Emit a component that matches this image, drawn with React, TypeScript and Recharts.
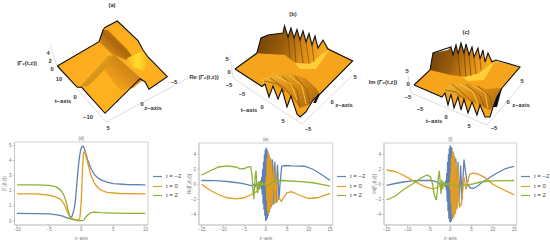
import React from "react";
import { ComposedChart, LineChart, Line, Area, XAxis, YAxis, Legend, ReferenceArea, ReferenceDot } from "recharts";

type P = [number, number];

// ---- line plots: [z, value] ----
const absBlue: P[] = [[-10,.5],[-7,.49],[-5,.47],[-4,.42],[-3,.33],[-2.4,.24],[-2,.17],[-1.7,.16],[-1.4,.35],[-1.1,.8],[-.9,1.4],[-.7,2.4],[-.5,3.4],[-.3,4.2],[-.1,4.7],[.1,4.93],[.3,4.95],[.5,4.8],[.8,4.35],[1,4.05],[1.5,3.5],[2,3.1],[2.5,2.88],[3,2.74],[4,2.58],[5,2.48],[7,2.42],[10,2.4]];
const absOrange: P[] = [[-10,1.8],[-7,1.79],[-5,1.72],[-4,1.6],[-3.2,1.42],[-2.7,1.15],[-2.3,.75],[-2,.45],[-1.6,.22],[-1.2,.12],[-.8,.07],[-.4,.05],[-.2,.25],[0,1.3],[.1,2.4],[.2,3.5],[.35,4.5],[.5,4.65],[.8,4.2],[1,3.85],[1.5,3.05],[2,2.55],[2.5,2.25],[3,2.05],[4,1.9],[6,1.82],[10,1.8]];
const absGreen: P[] = [[-10,2.4],[-7,2.39],[-5,2.36],[-4,2.28],[-3.3,2.08],[-2.8,1.8],[-2.4,1.35],[-2.1,.8],[-1.8,.25],[-1.6,.12],[-1.2,.08],[-.6,.03],[0,.02],[.3,.03],[.5,.12],[.8,.3],[1.1,.42],[1.5,.55],[2,.58],[3,.55],[5,.52],[7,.5],[10,.5]];

const reBlue: P[] = [[-15,.5],[-12,.48],[-10,.42],[-8,.3],[-6,.15],[-4.5,0],[-3.2,-.2],[-2.8,0],[-2.5,-.3],[-2.2,.1],[-1.9,-.2],[-1.6,.2],[-1.4,-.3],[-1.2,.5],[-1.05,-.7],[-.95,1],[-.85,-1.4],[-.75,2],[-.65,-2.6],[-.55,3],[-.45,-3.4],[-.35,4],[-.25,-4.2],[-.15,4.6],[-.05,-4.9],[.05,4.9],[.15,-4.8],[.25,4.7],[.35,-4.5],[.45,4.4],[.55,-4.2],[.65,4],[.75,-3.8],[.85,3.7],[1,-3.3],[1.15,3.4],[1.3,-3],[1.55,3.3],[1.8,-2.7],[2.1,3],[2.4,-2.5],[2.7,2.6],[3.05,-2.1],[3.3,0],[3.7,2.4],[4.5,2.5],[6,2.45],[9,2.4],[11,2],[13,1.3],[15,.5]];
const reOrange: P[] = [[-15,0],[-13,-.8],[-11,-1.4],[-9,-1.8],[-7,-1.95],[-5,-1.8],[-3.5,-1.4],[-2.5,-1.1],[-2,-.9],[-1.7,-.5],[-1.5,-.3],[-1.2,.05],[-.8,-.05],[-.4,.05],[0,-.2],[.1,1],[.2,-2],[.3,3.5],[.4,-3.6],[.5,4.3],[.6,-4],[.7,4],[.85,-3.8],[1,3.5],[1.15,-3.2],[1.3,3],[1.5,-2.8],[1.8,2.5],[2.1,-2.6],[2.4,1.5],[2.7,-2.2],[3.1,-1.8],[3.6,-2.3],[4.2,-1.7],[5,-1.1],[6,-1],[8,-1.5],[10,-1.9],[12,-1.8],[14,-1.4],[15,-1.2]];
const reGreen: P[] = [[-15,1.2],[-13,1.8],[-11,2.3],[-9,2.45],[-7,2.3],[-6,2.05],[-5,2.1],[-4,2.35],[-3.5,2.3],[-3.2,1],[-3,-1],[-2.8,-2],[-2.7,-.8],[-2.5,1],[-2.3,1.8],[-2.1,-.2],[-1.9,-1.2],[-1.7,.4],[-1.5,-.7],[-1.3,.3],[-1.1,-.2],[-.9,.2],[-.6,0],[0,-.1],[.6,-.15],[1,-.1],[1.6,.3],[2,.45],[4,.5],[8,.35],[11,.2],[13,0],[15,-.25]];

const imBlue: P[] = [[-15,-.15],[-13,.1],[-11,.3],[-9,.45],[-7,.5],[-5,.5],[-4,.45],[-3,.3],[-2.5,0],[-2,-.1],[-1.6,.2],[-1.3,-.3],[-1.1,.5],[-.95,-.8],[-.85,1.5],[-.75,-2.3],[-.65,3],[-.55,-3.6],[-.45,4],[-.35,-4.6],[-.25,4.8],[-.15,-5],[-.05,5.2],[.05,-5.1],[.15,5],[.25,-4.9],[.35,4.9],[.45,-4.6],[.55,4.4],[.65,-4.3],[.75,4.2],[.85,-4],[1,3.7],[1.15,-3.6],[1.3,3.4],[1.55,-3.2],[1.8,3],[2.1,-2.8],[2.4,2.5],[2.75,-2],[3.2,3.3],[3.6,1.5],[4,0],[4.7,-.5],[5.5,-.55],[6.5,-.2],[7.5,.3],[8.5,.6],[9.5,1],[11,1.5],[13,2.1],[15,2.4]];
const imOrange: P[] = [[-15,1.9],[-13,1.7],[-11,1.2],[-9,.55],[-7,-.05],[-5.5,-.4],[-4.2,-.6],[-3.4,-.5],[-2.8,-.3],[-2.2,-.15],[-1.5,.05],[-.8,-.05],[-.2,.1],[0,-.8],[.1,1.4],[.2,-2.5],[.3,3.6],[.4,-4],[.5,4.5],[.6,-4.6],[.7,4.3],[.85,-4.4],[1,3.6],[1.15,-4],[1.3,3],[1.5,-3.4],[1.8,2.4],[2.2,-3],[2.6,-2.7],[3.2,1],[3.7,-.7],[4.5,1.3],[5.3,1.5],[6.5,1.35],[8,.95],[10,0],[12,-.6],[15,-1.4]];
const imGreen: P[] = [[-15,-2.1],[-13,-1.6],[-11,-.7],[-9,0],[-7,.8],[-5.5,1.25],[-4.7,1],[-4.2,.1],[-3.8,-1.4],[-3.3,-2.1],[-3,-.6],[-2.8,1],[-2.6,1.8],[-2.4,.3],[-2.2,-1.3],[-2,.6],[-1.8,-.7],[-1.6,.3],[-1.3,-.2],[-1,.1],[-.4,-.1],[.5,0],[1.2,-.15],[2,-.3],[3,-.15],[5,0],[7,.3],[10,.45],[15,.5]];

const seriesNames = ["t = −2", "t = 0", "t = 2"];
const seriesColors = ["#5E81B5", "#E19C24", "#8FB131"];

// ---- surface outlines, projected onto the picture plane: [across, down] ----
const aBaseUp: P[] = [[57.3,66],[99,41.7],[103,30],[105,27.5],[117.3,21],[138,40.7],[143,50],[148,57],[167.3,76.7]];
const aBaseLo: P[] = [[57.3,66],[77.3,87.3],[81.7,87.3],[105,113.3],[140,78.7],[145,81.7],[149,89.3],[167.3,76.7]];
const aBackUp: P[] = [[99,41.7],[103,30],[108,30],[126,48],[132,56]];
const aBackLo: P[] = [[99,41.7],[112,54],[126,60],[132,56]];
const aYellowUp: P[] = [[127,58],[136,54],[143,51],[148,58]];
const aYellowLo: P[] = [[127,58],[133,67],[144,71],[148,58]];
const aRidgeUp: P[] = [[104,70],[108,56],[115,55],[143,80]];
const aRidgeLo: P[] = [[104,70],[120,90],[133,88],[143,80]];
const aSlopeUp: P[] = [[79,87],[90,76],[108,56],[113,57]];
const aSlopeLo: P[] = [[79,87],[88,86],[102,72],[113,57]];
const aOutline: P[] = [[57.3,66],[77.3,87.3],[81.7,87.3],[105,113.3],[140,78.7],[145,81.7],[149,89.3],[167.3,76.7],[148,57],[143,50],[138,40.7],[117.3,21],[105,27.5],[103,30],[99,41.7],[57.3,66]];
const aAxis: P[] = [[50,45],[57,66],[106,122],[190,77]];

const bBaseUp: P[] = [[235,69],[256.7,53.3],[328,48],[352.7,61]];
const bBaseLo: P[] = [[235,69],[262,86.5],[265,84],[269,97],[273,86],[278,99],[282,89],[287,107],[291,96],[297,114],[300,117],[306,112],[313,100],[320,94],[352.7,61]];
const bBackUp: P[] = [[256.7,53.3],[261,38],[268,35],[278,33.5],[283,33],[284.5,26],[288,37],[291,28],[294,38],[297,29.5],[300,40],[303,31],[306,42],[309,33.5],[312,45],[315,36],[318,48],[323,40],[328,49]];
const bBackLo: P[] = [[256.7,53.3],[270,54],[285,55],[295,63],[310,65],[320,58],[328,49]];
const bGlowUp: P[] = [[295,63],[310,64],[322,54],[330,49]];
const bGlowLo: P[] = [[295,63],[300,69],[316,69],[330,49]];
const bFringeUp: P[] = [[260,80],[275,74],[290,73],[305,78],[316,88],[320,94]];
const bFringeLo: P[] = [[260,80],[265,84],[273,86],[282,89],[291,96],[300,108],[310,104],[320,94]];
const bBlobUp: P[] = [[313,103],[318,94],[320,94]];
const bBlobLo: P[] = [[313,103],[316,103],[320,94]];
const bEdge: P[] = [[235,69],[262,86.5],[265,84],[269,97],[273,86],[278,99],[282,89],[287,107],[291,96],[297,114],[300,117],[306,112],[313,100],[320,94],[352.7,61],[328,49],[323,40],[318,48],[315,36],[312,45],[309,33.5],[306,42],[303,31],[300,40],[297,29.5],[294,38],[291,28],[288,37],[284.5,26],[283,33],[268,35],[261,38],[256.7,53.3],[235,69]];
const bRibA: P[] = [[270,78],[285,88],[291,96]];
const bRibB: P[] = [[282,76],[297,90],[300,108]];
const bRibC: P[] = [[295,76],[307,90],[310,104]];
const bRibD: P[] = [[264,81],[278,84],[285,92]];
const bLightA: P[] = [[276,76],[291,84],[297,100]];
const bLightB: P[] = [[289,75],[302,86],[306,104]];
const bBackRibA: P[] = [[288,37],[290,58]];
const bBackRibB: P[] = [[294,38],[296,62]];
const bBackRibC: P[] = [[300,40],[303,63]];
const bBackRibD: P[] = [[306,42],[309,63]];
const bBackRibE: P[] = [[312,45],[314,62]];
const bAxis: P[] = [[230,55],[233,78],[302,124],[353,75]];

const cBaseUp: P[] = [[414,85],[430,70],[492,60],[520,67]];
const cBaseLo: P[] = [[414,85],[442,97],[445,93],[448,105],[451,94],[454,108],[458,97],[461,110],[464,99],[468,113],[472,102],[477,115],[480,105],[485,117],[490,117],[493,107],[497,97],[502,88],[520,67]];
const cBackUp: P[] = [[430,70],[433,53],[448,50],[451,47],[453,55],[456,45],[458,54],[461,43],[464,53],[466,44],[469,55],[472,47],[474,57],[478,48],[480,59],[483,50],[485,62],[488,53],[492,62]];
const cBackLo: P[] = [[430,70],[451,75],[465,77],[478,73],[490,63],[492,62]];
const cGlowUp: P[] = [[462,77],[478,74],[488,66],[496,60]];
const cGlowLo: P[] = [[462,77],[468,81],[484,80],[496,60]];
const cFringeUp: P[] = [[440,92],[452,84],[470,83],[486,89],[502,88]];
const cFringeLo: P[] = [[440,92],[445,93],[451,94],[458,97],[464,99],[472,102],[480,105],[490,110],[502,88]];
const cBlobUp: P[] = [[493,107],[497,96],[502,88]];
const cBlobLo: P[] = [[493,107],[497,107],[502,88]];
const cEdge: P[] = [[414,85],[442,97],[445,93],[448,105],[451,94],[454,108],[458,97],[461,110],[464,99],[468,113],[472,102],[477,115],[480,105],[485,117],[490,117],[493,107],[497,97],[502,88],[520,67],[496,60],[492,62],[488,53],[485,62],[483,50],[480,59],[478,48],[474,57],[472,47],[469,55],[466,44],[464,53],[461,43],[458,54],[456,45],[453,55],[451,47],[433,53],[430,70],[414,85]];
const cRibA: P[] = [[452,84],[466,96],[472,102]];
const cRibB: P[] = [[466,84],[480,96],[485,108]];
const cRibC: P[] = [[478,86],[490,97],[492,108]];
const cRibD: P[] = [[445,90],[456,92],[464,99]];
const cLightA: P[] = [[459,84],[473,92],[478,104]];
const cLightB: P[] = [[472,85],[485,93],[488,108]];
const cBackRibA: P[] = [[458,54],[460,76]];
const cBackRibB: P[] = [[464,53],[466,77]];
const cBackRibC: P[] = [[469,55],[471,76]];
const cBackRibD: P[] = [[474,57],[476,74]];
const cBackRibE: P[] = [[480,59],[481,70]];
const cAxis: P[] = [[408,76],[411,93],[487,125],[522,84]];

// ---- texts around the surfaces ----
const captions: [string, number, number][] = [
  ["(a)",112,5],["|Γ₂(t,z)|",27,63],["4",48,53],["2",50,61],["0",52,69],["10",59,79],["t−axis",63,101],["0",75,97],["−10",88,117],["−5",174,82],["0",142,104],["z−axis",153,108],["5",108,128],
  ["(b)",293,14],["Re (Γ₂(t,z))",204,77],["5",227,59],["0",229,72],["−5",229,85],["−5",242,94],["t−axis",249,110],["0",262,107],["5",283,121],["0",332,102],["z−axis",344,105],["5",355,77],["−5",308,129],
  ["(c)",466,32],["Im (Γ₂(t,z))",383,82],["5",407,71],["0",408,84],["−5",408,97],["−5",420,109],["t−axis",434,121],["0",446,117],["5",469,126],["0",508,102],["z−axis",521,105],["5",522,81],["−5",494,128],
];

const FONT = '"Liberation Sans", Arial, sans-serif';

function band(up: P[], lo: P[]) {
  const at = (pts: P[], x: number) => {
    for (let i = 1; i < pts.length; i++) {
      if (x <= pts[i][0]) {
        const [x0, y0] = pts[i - 1];
        const [x1, y1] = pts[i];
        return x1 === x0 ? y1 : y0 + ((y1 - y0) * (x - x0)) / (x1 - x0);
      }
    }
    return pts[pts.length - 1][1];
  };
  const xs = Array.from(new Set([...up, ...lo].map((p) => p[0]))).sort((a, b) => a - b);
  return xs.map((x) => ({ x, band: [at(lo, x), at(up, x)] }));
}
const toRows = (pts: P[]) => pts.map(([x, y]) => ({ x, y }));

const surface = (up: P[], lo: P[], fill: string, key: string) => (
  <Area key={key} data={band(up, lo)} dataKey="band" type="linear" xAxisId="s" yAxisId="s" fill={fill} fillOpacity={1} stroke="none" dot={false} activeDot={false} isAnimationActive={false} />
);
const path = (pts: P[], stroke: string, w: number, key: string) => (
  <Line key={key} data={toRows(pts)} dataKey="y" type="linear" xAxisId="s" yAxisId="s" stroke={stroke} strokeWidth={w} dot={false} activeDot={false} isAnimationActive={false} legendType="none" />
);

function Surfaces() {
  return (
    <ComposedChart width={550} height={135} margin={{ top: 0, right: 0, bottom: 0, left: 0 }} style={{ position: "absolute", left: 0, top: 0 }}>
      <defs>
        <linearGradient id="gABase" x1="0" y1="0" x2="1" y2="1">
          <stop offset="0" stopColor="#F9A51B" /><stop offset="0.6" stopColor="#FFB21F" /><stop offset="1" stopColor="#FDA91C" />
        </linearGradient>
        <linearGradient id="gABack" x1="0.9" y1="0" x2="0.2" y2="0.7">
          <stop offset="0" stopColor="#F8A51C" /><stop offset="0.6" stopColor="#A9660E" /><stop offset="1" stopColor="#D88B14" />
        </linearGradient>
        <linearGradient id="gAYellow" x1="0" y1="0.5" x2="1" y2="0.5">
          <stop offset="0" stopColor="#FFB420" /><stop offset="0.5" stopColor="#FFDE2C" /><stop offset="1" stopColor="#FFB420" />
        </linearGradient>
        <linearGradient id="gARidge" x1="1" y1="0" x2="0" y2="1">
          <stop offset="0" stopColor="#F2AA1E" /><stop offset="0.4" stopColor="#D08718" /><stop offset="0.8" stopColor="#F4A01A" /><stop offset="1" stopColor="#FBAB1C" />
        </linearGradient>
        <linearGradient id="gASlope" x1="0" y1="0" x2="1" y2="1">
          <stop offset="0" stopColor="#FFC026" /><stop offset="1" stopColor="#B4700F" />
        </linearGradient>
        <linearGradient id="gBack" x1="0" y1="0" x2="1" y2="0.2">
          <stop offset="0" stopColor="#6B3F08" /><stop offset="0.45" stopColor="#9A5D0C" /><stop offset="0.75" stopColor="#D98B14" /><stop offset="1" stopColor="#F7A81D" />
        </linearGradient>
        <linearGradient id="gFringe" x1="0" y1="0" x2="1" y2="0.6">
          <stop offset="0" stopColor="#F2C03C" /><stop offset="0.5" stopColor="#E09116" /><stop offset="1" stopColor="#B4700F" />
        </linearGradient>
      </defs>
      <XAxis xAxisId="s" type="number" dataKey="x" hide domain={[0, 550]} allowDataOverflow />
      <YAxis yAxisId="s" type="number" hide reversed domain={[0, 135]} allowDataOverflow />

      {path(aAxis, "#D4D4D4", 0.8, "a-axis")}
      {path(bAxis, "#D4D4D4", 0.8, "b-axis")}
      {path(cAxis, "#D4D4D4", 0.8, "c-axis")}

      {surface(aBaseUp, aBaseLo, "url(#gABase)", "a-base")}
      {surface(aBackUp, aBackLo, "url(#gABack)", "a-back")}
      {surface(aYellowUp, aYellowLo, "url(#gAYellow)", "a-yellow")}
      {surface(aRidgeUp, aRidgeLo, "url(#gARidge)", "a-ridge")}
      {surface(aSlopeUp, aSlopeLo, "url(#gASlope)", "a-slope")}
      {path(aOutline, "#111", 1.1, "a-edge")}

      {surface(bBaseUp, bBaseLo, "#F6A41C", "b-base")}
      {surface(bBackUp, bBackLo, "url(#gBack)", "b-back")}
      {path(bBackRibA, "#6B3F08", 0.7, "b-k1")}
      {path(bBackRibB, "#6B3F08", 0.7, "b-k2")}
      {path(bBackRibC, "#6B3F08", 0.7, "b-k3")}
      {path(bBackRibD, "#7F4C0A", 0.7, "b-k4")}
      {path(bBackRibE, "#7F4C0A", 0.7, "b-k5")}
      {surface(bGlowUp, bGlowLo, "#FFCF3A", "b-glow")}
      {surface(bFringeUp, bFringeLo, "url(#gFringe)", "b-fringe")}
      {path(bRibA, "#8F5509", 0.8, "b-r1")}
      {path(bRibB, "#8F5509", 0.8, "b-r2")}
      {path(bRibC, "#8F5509", 0.8, "b-r3")}
      {path(bRibD, "#8F5509", 0.8, "b-r4")}
      {path(bLightA, "#FFD24A", 0.8, "b-l1")}
      {path(bLightB, "#FFD24A", 0.8, "b-l2")}
      {surface(bBlobUp, bBlobLo, "#111", "b-blob")}
      {path(bEdge, "#111", 1.1, "b-edge")}

      {surface(cBaseUp, cBaseLo, "#F6A41C", "c-base")}
      {surface(cBackUp, cBackLo, "url(#gBack)", "c-back")}
      {path(cBackRibA, "#6B3F08", 0.7, "c-k1")}
      {path(cBackRibB, "#6B3F08", 0.7, "c-k2")}
      {path(cBackRibC, "#6B3F08", 0.7, "c-k3")}
      {path(cBackRibD, "#7F4C0A", 0.7, "c-k4")}
      {path(cBackRibE, "#7F4C0A", 0.7, "c-k5")}
      {surface(cGlowUp, cGlowLo, "#FFCF3A", "c-glow")}
      {surface(cFringeUp, cFringeLo, "url(#gFringe)", "c-fringe")}
      {path(cRibA, "#8F5509", 0.8, "c-r1")}
      {path(cRibB, "#8F5509", 0.8, "c-r2")}
      {path(cRibC, "#8F5509", 0.8, "c-r3")}
      {path(cRibD, "#8F5509", 0.8, "c-r4")}
      {path(cLightA, "#FFD24A", 0.8, "c-l1")}
      {path(cLightB, "#FFD24A", 0.8, "c-l2")}
      {surface(cBlobUp, cBlobLo, "#111", "c-blob")}
      {path(cEdge, "#111", 1.1, "c-edge")}

      {captions.map(([value, x, y], i) => (
        <ReferenceDot key={i} xAxisId="s" yAxisId="s" x={x} y={y} r={0} fill="none" stroke="none" ifOverflow="visible"
          label={{ value, position: "center", fontSize: 5.8, fontWeight: 700, fontFamily: FONT, fill: "#333" }} />
      ))}
    </ComposedChart>
  );
}

type PlotProps = {
  left: number; plotLeft: number; plotRight: number; plotTop: number; plotBottom: number;
  width: number; xDomain: number[]; yDomain: number[]; xTicks: number[]; yTicks: number[];
  title: string; yLabel: string; series: P[][]; legendLeft: number;
};

function Plot(p: PlotProps) {
  const top = 125;
  const height = 116;
  const yAxisW = 9;
  const xAxisH = 12;
  const tick = { fontSize: 4.5, fill: "#777", fontFamily: FONT };
  return (
    <LineChart
      width={p.width}
      height={height}
      margin={{ left: p.plotLeft - p.left - yAxisW, right: p.left + p.width - p.plotRight, top: p.plotTop - top, bottom: top + height - p.plotBottom - xAxisH }}
      style={{ position: "absolute", left: p.left, top }}
    >
      <XAxis type="number" dataKey="z" domain={p.xDomain} ticks={p.xTicks} allowDataOverflow height={xAxisH} tick={tick} tickSize={2} tickMargin={1}
        axisLine={{ stroke: "#BDBDBD", strokeWidth: 0.7 }} tickLine={{ stroke: "#999", strokeWidth: 0.5 }}
        tickFormatter={(v: number) => String(v).replace("-", "−")}
        label={{ value: "z−axis", position: "insideBottom", offset: -3, fontSize: 4.5, fill: "#777", fontFamily: FONT }} />
      <YAxis type="number" domain={p.yDomain} ticks={p.yTicks} allowDataOverflow width={yAxisW} tick={tick} tickSize={2} tickMargin={1}
        axisLine={{ stroke: "#BDBDBD", strokeWidth: 0.7 }} tickLine={{ stroke: "#999", strokeWidth: 0.5 }}
        tickFormatter={(v: number) => String(v).replace("-", "−")}
        label={{ value: p.yLabel, angle: -90, position: "insideLeft", offset: 0, dx: -1, fontSize: 4.5, fill: "#777", fontFamily: FONT, style: { textAnchor: "middle" } }} />
      <ReferenceArea x1={p.xDomain[0]} x2={p.xDomain[1]} y1={p.yDomain[0]} y2={p.yDomain[1]} fill="none" stroke="#BDBDBD" strokeWidth={0.7}
        label={{ value: p.title, position: "top", offset: 2, fontSize: 4.5, fill: "#666", fontFamily: FONT }} />
      {p.series.map((s, i) => (
        <Line key={i} name={seriesNames[i]} data={s.map(([z, v]) => ({ z, v }))} dataKey="v" type="linear" stroke={seriesColors[i]} strokeWidth={1.3} dot={false} activeDot={false} isAnimationActive={false} />
      ))}
      <Legend layout="vertical" align="center" verticalAlign="middle" iconType="plainline" iconSize={9} itemSorter={null}
        wrapperStyle={{ left: p.legendLeft - p.left, top: 47, width: 40, fontSize: 6, lineHeight: "9.6px", fontFamily: FONT, margin: 0 }}
        formatter={(v: string) => <span style={{ color: "#444" }}>{v}</span>} />
    </LineChart>
  );
}

export default function App() {
  return (
    <div style={{ position: "absolute", left: 0, top: 0, width: 550, height: 241, overflow: "hidden", background: "#fff" }}>
      <Surfaces />
      <Plot left={0} width={185} plotLeft={14.5} plotRight={148} plotTop={142} plotBottom={225} xDomain={[-10.4, 10.4]} yDomain={[-0.27, 5.24]} xTicks={[-10,-5,0,5,10]} yTicks={[0,1,2,3,4,5]} title="(d)" yLabel="|Γ₂(t,z)|" series={[absBlue, absOrange, absGreen]} legendLeft={153} />
      <Plot left={185} width={180} plotLeft={199} plotRight={332.7} plotTop={143} plotBottom={225} xDomain={[-15.6, 15.6]} yDomain={[-5.43, 5.5]} xTicks={[-15,-10,-5,0,5,10,15]} yTicks={[-4,-2,0,2,4]} title="(e)" yLabel="Re[Γ₂(t,z)]" series={[reBlue, reOrange, reGreen]} legendLeft={337} />
      <Plot left={365} width={185} plotLeft={384} plotRight={516.7} plotTop={143} plotBottom={225} xDomain={[-15.6, 15.6]} yDomain={[-5.43, 5.5]} xTicks={[-15,-10,-5,0,5,10,15]} yTicks={[-4,-2,0,2,4]} title="(f)" yLabel="Im[Γ₂(t,z)]" series={[imBlue, imOrange, imGreen]} legendLeft={521} />
    </div>
  );
}
